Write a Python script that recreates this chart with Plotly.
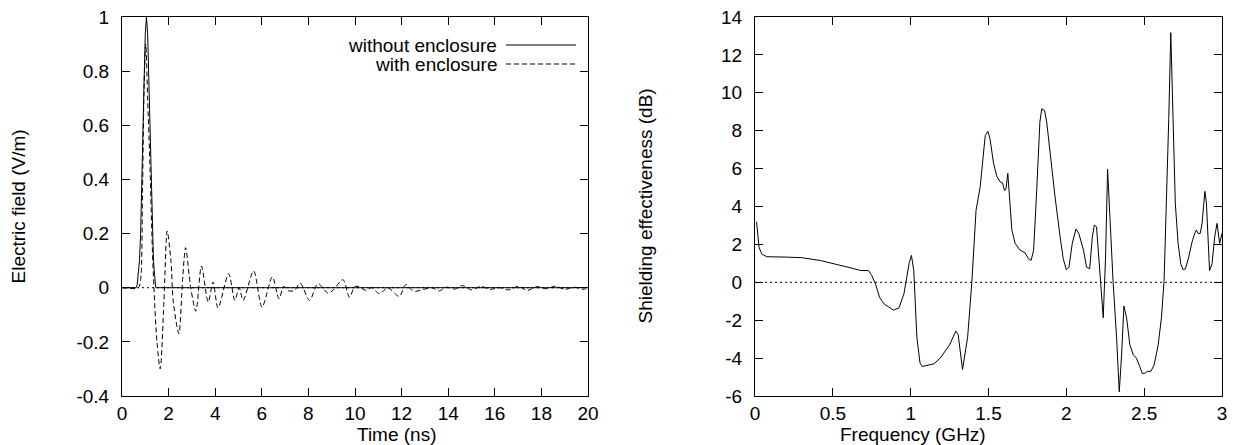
import plotly.graph_objects as go

# ---------------- data ----------------
# Left panel: time-domain electric field
time_without = [0, 0.6, 0.65, 0.7, 0.75, 0.8, 0.85, 0.9, 0.95, 1.0, 1.05, 1.1, 1.15, 1.2, 1.25, 1.3, 1.35, 1.4, 1.45, 20]
field_without = [0, 0, 0.01, 0.045, 0.10, 0.20, 0.36, 0.56, 0.77, 0.94, 1.0, 0.94, 0.77, 0.56, 0.36, 0.20, 0.10, 0.045, 0, 0]

time_with = [0, 0.7, 0.8, 0.88, 0.95, 1.02, 1.1, 1.2, 1.3, 1.37, 1.5, 1.64, 1.8, 1.94, 2.1, 2.2, 2.44,
             2.6, 2.73, 2.95, 3.17, 3.41, 3.7, 3.91, 4.12, 4.58, 4.84, 5.03, 5.2, 5.65, 6.01, 6.45,
             6.74, 6.94, 7.17, 7.4, 7.65, 8.05, 8.41, 8.84, 9.05, 9.48, 9.76, 10.0, 10.2, 10.48, 10.7,
             11.05, 11.4, 11.9, 12.19, 12.5, 13.0, 13.3, 13.62, 13.9, 14.3, 14.6, 15.0, 15.4, 15.8,
             16.2, 16.6, 17.0, 17.4, 17.8, 18.2, 18.6, 19.0, 19.4, 19.8, 20]
field_with = [0, 0, 0.03, 0.35, 0.75, 0.9, 0.7, 0.45, 0.15, 0, -0.2, -0.3, -0.05, 0.21, 0.1, -0.05, -0.17,
              0.03, 0.148, 0.0, -0.087, 0.08, -0.053, 0.021, -0.075, 0.052, -0.047, 0.0, -0.047, 0.062, -0.072, 0.04,
              -0.041, 0.005, -0.012, -0.01, 0.017, -0.047, 0.015, -0.02, -0.01, 0.03, -0.035, 0.005, 0.002, -0.01, 0.0,
              -0.022, 0.0, -0.032, 0.012, -0.013, -0.005, 0.0, -0.012, 0.002, -0.005, 0.008, -0.008, 0.005, -0.006,
              0.0, -0.008, 0.005, -0.01, 0.004, -0.004, 0.006, -0.006, 0.002, -0.006, 0.0]

# Right panel: shielding effectiveness
freq = [0.01, 0.026, 0.043, 0.075, 0.2, 0.3, 0.42, 0.53, 0.62, 0.68, 0.73, 0.75, 0.775, 0.8, 0.83, 0.89,
        0.925, 0.957, 0.99, 1.005, 1.02, 1.04, 1.06, 1.075, 1.15, 1.19, 1.25, 1.29, 1.305, 1.333, 1.366,
        1.393, 1.42, 1.447, 1.479, 1.496, 1.51, 1.532, 1.553, 1.575, 1.59, 1.603, 1.612, 1.624, 1.632,
        1.65, 1.671, 1.703, 1.735, 1.756, 1.774, 1.79, 1.81, 1.83, 1.842, 1.86, 1.874, 1.895, 1.927,
        1.96, 1.98, 2.0, 2.017, 2.038, 2.062, 2.08, 2.11, 2.13, 2.15, 2.167, 2.18, 2.194, 2.21, 2.222,
        2.237, 2.252, 2.265, 2.28, 2.30, 2.323, 2.34, 2.355, 2.37, 2.387, 2.408, 2.43, 2.45, 2.472,
        2.487, 2.504, 2.521, 2.543, 2.564, 2.59, 2.611, 2.628, 2.643, 2.658, 2.671, 2.684, 2.70, 2.718,
        2.735, 2.75, 2.765, 2.786, 2.808, 2.825, 2.835, 2.846, 2.86, 2.872, 2.89, 2.90, 2.92, 2.936,
        2.953, 2.968, 2.985, 3.0]
se_db = [3.2, 1.85, 1.5, 1.35, 1.33, 1.3, 1.15, 0.95, 0.75, 0.62, 0.62, 0.35, -0.1, -0.8, -1.15, -1.47,
         -1.35, -0.6, 1.0, 1.42, 0.62, -2.9, -4.26, -4.44, -4.3, -4.0, -3.3, -2.58, -2.75, -4.6, -2.9,
         0.0, 3.8, 5.07, 7.74, 7.97, 7.56, 6.3, 5.6, 5.3, 5.25, 4.84, 4.9, 5.75, 4.9,
         2.76, 2.05, 1.7, 1.55, 1.25, 1.16, 1.7, 4.9, 8.45, 9.16, 9.07, 8.45, 6.85, 4.54,
         2.4, 1.25, 0.66, 0.8, 2.05, 2.81, 2.58, 1.7, 0.8, 0.71, 2.4, 3.02, 2.93, 0.98, -0.62,
         -1.87, 1.33, 5.96, 3.47, 0.09, -2.94, -5.78, -3.83, -1.25, -1.87, -3.29, -3.83, -4.0, -4.45,
         -4.8, -4.8, -4.7, -4.7, -4.36, -3.3, -1.87, 0.09, 3.83, 8.63, 13.17, 8.63, 4.18, 2.05,
         0.98, 0.66, 0.71, 1.33, 2.14, 2.58, 2.76, 2.58, 2.58, 3.11, 4.8, 4.18, 0.62, 0.98,
         2.4, 3.11, 2.05, 2.58]

left_xticks = [0, 2, 4, 6, 8, 10, 12, 14, 16, 18, 20]
left_yticks = [-0.4, -0.2, 0, 0.2, 0.4, 0.6, 0.8, 1]
left_yticklabels = ["-0.4", "-0.2", "0", "0.2", "0.4", "0.6", "0.8", "1"]
right_xticks = [0, 0.5, 1, 1.5, 2, 2.5, 3]
right_xticklabels = ["0", "0.5", "1", "1.5", "2", "2.5", "3"]
right_yticks = [-6, -4, -2, 0, 2, 4, 6, 8, 10, 12, 14]
right_yticklabels = ["-6", "-4", "-2", "0", "2", "4", "6", "8", "10", "12", "14"]

# ---------------- figure ----------------
W, H = 1235, 445
FONT = "Liberation Sans, Arial, sans-serif"
FS = 19

fig = go.Figure()

fig.add_trace(go.Scatter(x=time_without, y=field_without, mode="lines",
                         line=dict(color="black", width=1),
                         xaxis="x", yaxis="y", showlegend=False, hoverinfo="skip"))
fig.add_trace(go.Scatter(x=time_with, y=field_with, mode="lines",
                         line=dict(color="black", width=1, dash="5px,3px", shape="spline", smoothing=0.8),
                         xaxis="x", yaxis="y", showlegend=False, hoverinfo="skip"))
fig.add_trace(go.Scatter(x=freq, y=se_db, mode="lines",
                         line=dict(color="black", width=1),
                         xaxis="x2", yaxis="y2", showlegend=False, hoverinfo="skip"))

lx0, lx1 = 122 / W, 588 / W
rx0, rx1 = 755 / W, 1222 / W
yb, yt = (H - 396) / H, (H - 17) / H

axis_common = dict(showline=True, linecolor="black", linewidth=1, mirror="ticks",
                   ticks="inside", ticklen=8, tickwidth=1, tickcolor="black",
                   showgrid=False, zeroline=False, automargin=False,
                   tickfont=dict(family=FONT, size=FS, color="black"))

fig.update_layout(
    width=W, height=H,
    margin=dict(l=0, r=0, t=0, b=0, pad=0),
    paper_bgcolor="white", plot_bgcolor="white",
    xaxis=dict(domain=[lx0, lx1], range=[0, 20], anchor="y",
               tickvals=left_xticks, ticktext=[str(v) for v in left_xticks], **axis_common),
    yaxis=dict(domain=[yb, yt], range=[-0.4, 1], anchor="x", ticklabelstandoff=8,
               tickvals=left_yticks, ticktext=left_yticklabels, **axis_common),
    xaxis2=dict(domain=[rx0, rx1], range=[0, 3], anchor="y2",
                tickvals=right_xticks, ticktext=right_xticklabels, **axis_common),
    yaxis2=dict(domain=[yb, yt], range=[-6, 14], anchor="x2", ticklabelstandoff=8,
                tickvals=right_yticks, ticktext=right_yticklabels, **axis_common),
    showlegend=False,
)

# dotted zero lines
for xr, yr in (("x domain", "y"), ("x2 domain", "y2")):
    fig.add_shape(type="line", xref=xr, yref=yr, x0=0, x1=1, y0=0, y1=0,
                  line=dict(color="black", width=1, dash="2px,3px"), layer="below")

# axis titles
tfont = dict(family=FONT, size=FS, color="black")
fig.add_annotation(text="Time (ns)", xref="paper", yref="paper", x=(lx0 + lx1) / 2, y=(H - 434) / H,
                   showarrow=False, font=tfont, yanchor="middle")
fig.add_annotation(text="Frequency (GHz)", xref="paper", yref="paper", x=(rx0 + rx1) / 2, y=(H - 434) / H,
                   showarrow=False, font=tfont, yanchor="middle")
fig.add_annotation(text="Electric field (V/m)", xref="paper", yref="paper", x=18 / W, y=(yb + yt) / 2,
                   showarrow=False, font=tfont, textangle=-90, xanchor="center")
fig.add_annotation(text="Shielding effectiveness (dB)", xref="paper", yref="paper", x=645 / W, y=(yb + yt) / 2,
                   showarrow=False, font=tfont, textangle=-90, xanchor="center")

# key (gnuplot style: text then line sample)
key_rows = [("without enclosure", "solid", 45), ("with enclosure", "5px,3px", 64)]
for label, dash, ypx in key_rows:
    yp = (H - ypx) / H
    fig.add_annotation(text=label, xref="paper", yref="paper", x=498 / W, y=yp,
                       xanchor="right", yanchor="middle", showarrow=False, font=tfont,
                       borderpad=0)
    fig.add_shape(type="line", xref="paper", yref="paper", x0=506 / W, x1=576 / W, y0=yp, y1=yp,
                  line=dict(color="black", width=1, dash=dash))

fig.write_html("out.html", config={"displayModeBar": False, "staticPlot": True},
               post_script="document.body.style.margin='0';")
